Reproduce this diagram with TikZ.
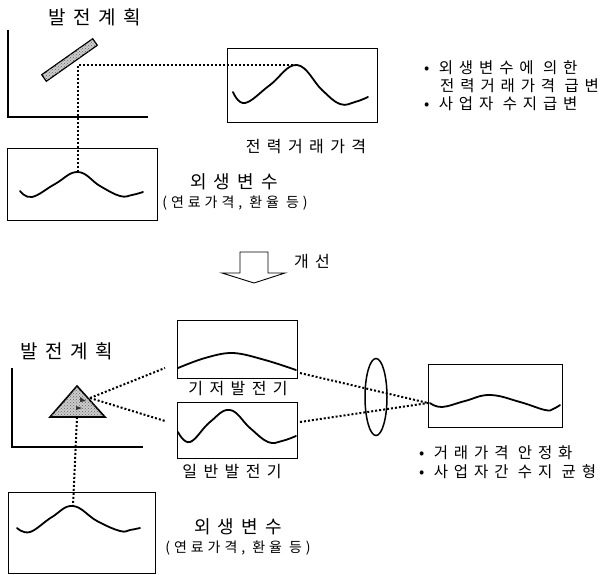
\documentclass[tikz,border=0pt]{standalone}
\usepackage{fontspec}
\newfontfamily\kr{Noto Sans CJK KR}
\newfontfamily\krw[LetterSpace=40]{Noto Sans CJK KR}
\newfontfamily\krm[LetterSpace=28]{Noto Sans CJK KR}
\newfontfamily\krb[LetterSpace=38]{Noto Sans CJK KR}
\usetikzlibrary{patterns,shapes.geometric}
\begin{document}
\begin{tikzpicture}[x=1pt,y=-1pt,
  frame/.style={draw,line width=0.8pt,inner sep=0pt,minimum width=#1},
  wave/.style={line width=1.8pt,line cap=round},
  dots/.style={line width=2pt,dash pattern=on 2pt off 2pt},
  axis/.style={line width=1.2pt},
  hatch/.style={draw,line width=1.2pt,fill=gray!40,postaction={pattern=crosshatch dots,pattern color=gray!80!black}},
  lab/.style={font=\krw\fontsize{16}{18}\selectfont,inner sep=0pt},
  sub/.style={font=\krm\fontsize{14}{16}\selectfont,inner sep=0pt},
  bul/.style={font=\krb\fontsize{15.5}{18}\selectfont,inner sep=0pt,anchor=west}]
\useasboundingbox (0,0) rectangle (605,575);
% ---------- top section ----------
\node[lab,font=\krw\fontsize{19}{21}\selectfont] (title1) at (95,17) {발전계획};
\draw[axis] (8,30) -- (8,117) -- (148,117);
\draw[hatch] (41.7,74.7) -- (92.7,38.7) -- (97.3,45.3) -- (46.3,81.3) -- cycle;
\node[frame=150pt,minimum height=74pt] (pbox) at (302,85) {};
\draw[wave] plot[smooth,tension=0.7] coordinates {(233,92) (245,103) (270,85) (297,65) (322,90) (340,104) (355,102) (368,97)};
\node[lab] (plab) at (306,147) {전력거래가격};
\node[bul] (b1) at (424,68) {• 외생변수에 의한};
\node[bul] (b2) at (440,86) {전력거래가격 급변};
\node[bul] (b3) at (424,104) {• 사업자 수지급변};
\node[frame=150pt,minimum height=72pt] (ebox1) at (82,184) {};
\draw[wave] plot[smooth,tension=0.7] coordinates {(20,191) (32,197) (55,184) (78,172) (100,186) (120,196) (132,195) (143,192)};
\coordinate (corner1) at (78,65);
\coordinate (peak1) at (297,65);
\coordinate (epeak1) at (78,172);
\draw[dots] (peak1) -- (corner1) -- (epeak1);
\node[lab,font=\krw\fontsize{18}{20}\selectfont] (ev1) at (234,182) {외생변수};
\node[sub] (ev1s) at (235,203) {(연료가격, 환율 등)};
% ---------- arrow ----------
\draw[line width=0.9pt] (240,252) -- (268,252) -- (268,273) -- (285,273) -- (254,283) -- (222,273) -- (240,273) -- cycle;
\node[lab] (imp) at (312,262) {개선};
% ---------- bottom section ----------
\node[lab,font=\krw\fontsize{19}{21}\selectfont] (title2) at (67,351) {발전계획};
\draw[axis] (12,368) -- (12,447) -- (143,447);
\draw[hatch,line width=1.6pt] (77,386) -- (105,417) -- (50,417) -- cycle;
\fill[black!80] (80,397) -- (86,401) -- (80,402) -- cycle;
\fill[black!80] (76,406) -- (82,408) -- (76,410) -- cycle;
\node[frame=120pt,minimum height=58pt] (base) at (237,349) {};
\draw[wave] plot[smooth,tension=0.6] coordinates {(178,368) (205,358) (233,353) (265,360) (296,370)};
\node[lab,fill=white] (baselab) at (238,389) {기저발전기};
\node[frame=120pt,minimum height=56pt] (gen) at (237,430) {};
\draw[wave] plot[smooth,tension=0.7] coordinates {(178,432) (190,442) (210,422) (230,410) (250,428) (268,442) (282,441) (296,436)};
\node[lab] (genlab) at (232,472) {일반발전기};
\coordinate (tri) at (90,398);
\coordinate (tribase) at (77,417);
\coordinate (basein) at (165,368);
\coordinate (genin) at (165,421);
\draw[dots] (tri) -- (basein);
\draw[dots] (tri) -- (genin);
\node[draw,line width=1.5pt,ellipse,minimum width=22pt,minimum height=77pt,inner sep=0pt] (lens) at (376,397) {};
\node[frame=134pt,minimum height=63pt] (res) at (495,395.5) {};
\coordinate (focus) at (428,403);
\coordinate (baseout) at (300,373);
\coordinate (genout) at (300,422);
\draw[dots] (baseout) -- (focus);
\draw[dots] (genout) -- (focus);
\draw[wave] plot[smooth,tension=0.7] coordinates {(430,403) (442,407) (465,401) (490,395) (520,402) (545,410) (553,409) (560,405)};
\node[bul] (r1) at (419,453) {• 거래가격 안정화};
\node[bul] (r2) at (419,472) {• 사업자간 수지 균형};
\node[frame=147pt,minimum height=81pt] (ebox2) at (81.5,532.5) {};
\draw[wave] plot[smooth,tension=0.7] coordinates {(17,528) (30,532) (52,517) (73,506) (97,521) (120,531) (130,530) (140,528)};
\coordinate (epeak2) at (73,506);
\draw[dots] (tribase) -- (epeak2);
\node[lab,font=\krw\fontsize{18}{20}\selectfont] (ev2) at (238,527) {외생변수};
\node[sub] (ev2s) at (238,548) {(연료가격, 환율 등)};
\end{tikzpicture}
\end{document}
